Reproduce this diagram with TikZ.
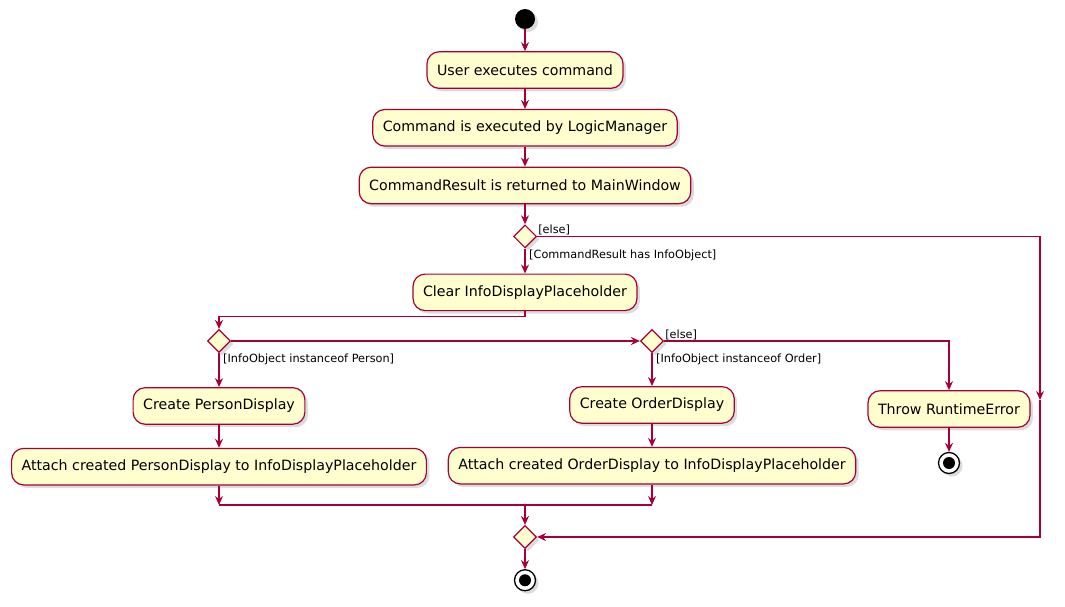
\documentclass[tikz,border=0pt]{standalone}
\usepackage{fontspec}
\setmainfont{DejaVu Sans}
\usepackage{tikz}
\usetikzlibrary{arrows.meta,positioning,shapes.geometric,shadows}
\definecolor{cact}{HTML}{FEFECE}
\definecolor{cactborder}{HTML}{A80036}
\definecolor{cshadow}{HTML}{9A9A9A}

\begin{document}
\begin{tikzpicture}[
    x=1pt, y=1pt,
    node distance=20pt,
    shd/.style={drop shadow={shadow xshift=3pt, shadow yshift=-3pt, opacity=0.35, fill=cshadow}},
    anode/.style={draw=cactborder, fill=cact, rounded corners=12pt, align=center, line width=1.2pt,
                  minimum height=36.5pt, inner xsep=10pt, font=\fontsize{14.2}{16}\selectfont, shd},
    dnode/.style={diamond, draw=cactborder, fill=cact, line width=1.2pt,
                  minimum width=23pt, minimum height=23pt, inner sep=0pt, shd},
    snode/.style={circle, fill=black, minimum size=20pt, inner sep=0pt, shd},
    enode/.style={circle, draw=black, fill=white, line width=1.3pt, minimum size=21pt, inner sep=0pt, shd,
                  path picture={\fill[black] (path picture bounding box.center) circle (6pt);}},
    glabel/.style={font=\fontsize{11.3}{13}\selectfont, inner sep=1pt},
    line/.style={draw=cactborder, line width=1.2pt},
    arr/.style={-{Stealth[length=9pt,width=8pt,inset=3pt]}, line}
]
\useasboundingbox (0,0) rectangle (1065,-607);
\node[snode] (start) at (525,-19) {};
\node[anode, below=22pt of start] (exec) {User executes command};
\node[anode, below=of exec] (logic) {Command is executed by LogicManager};
\node[anode, below=of logic] (result) {CommandResult is returned to MainWindow};
\node[dnode, below=of result] (hasinfo) {};
\node[anode, below=25pt of hasinfo] (clear) {Clear InfoDisplayPlaceholder};
\node[dnode] (isperson) at (219,-341) {};
\node[dnode] (isorder) at (652,-341) {};
\node[anode, below=34pt of isperson] (createp) {Create PersonDisplay};
\node[anode, below=23pt of createp] (attachp) {Attach created PersonDisplay to InfoDisplayPlaceholder};
\node[anode, below=33pt of isorder] (createo) {Create OrderDisplay};
\node[anode, below=23pt of createo] (attacho) {Attach created OrderDisplay to InfoDisplayPlaceholder};
\node[anode] (throw) at (949,-409) {Throw RuntimeError};
\node[enode, below=24pt of throw] (stopthrow) {};
\node[dnode] (merge) at (525,-537) {};
\node[enode, below=20pt of merge] (stop) {};
% guard labels
\node[glabel, anchor=south west] (hasinfoelse) at (hasinfo.east) {[else]};
\node[glabel, anchor=north west, xshift=3pt] (hasinfoyes) at (hasinfo.south) {[CommandResult has InfoObject]};
\node[glabel, anchor=north west, xshift=3pt] (ispersonyes) at (isperson.south) {[InfoObject instanceof Person]};
\node[glabel, anchor=north west, xshift=3pt] (isorderyes) at (isorder.south) {[InfoObject instanceof Order]};
\node[glabel, anchor=south west] (isorderelse) at (isorder.east) {[else]};
\coordinate (elsemid) at (1040,-400);
\coordinate (join) at (525,-505);
\draw[arr] (start) -- (exec);
\draw[arr] (exec) -- (logic);
\draw[arr] (logic) -- (result);
\draw[arr] (result) -- (hasinfo);
\draw[arr] (hasinfo) -- (clear);
\draw[arr] (clear.south) -- ++(0,-5) -| (isperson.north);
\draw[arr] (isperson.east) -- (isorder.west);
\draw[arr] (isperson) -- (createp);
\draw[arr] (createp) -- (attachp);
\draw[arr] (isorder) -- (createo);
\draw[arr] (createo) -- (attacho);
\draw[arr] (isorder.east) -| (throw.north);
\draw[arr] (throw) -- (stopthrow);
\draw[arr] (hasinfo.east) -| (elsemid);
\draw[arr] (elsemid) |- (merge.east);
\draw[arr] (attachp.south) -- (attachp.south |- join);
\draw[arr] (attacho.south) -- (attacho.south |- join);
\draw[line] (attachp.south |- join) -- (attacho.south |- join);
\draw[arr] (join) -- (merge.north);
\draw[arr] (merge) -- (stop);
\end{tikzpicture}
\end{document}
